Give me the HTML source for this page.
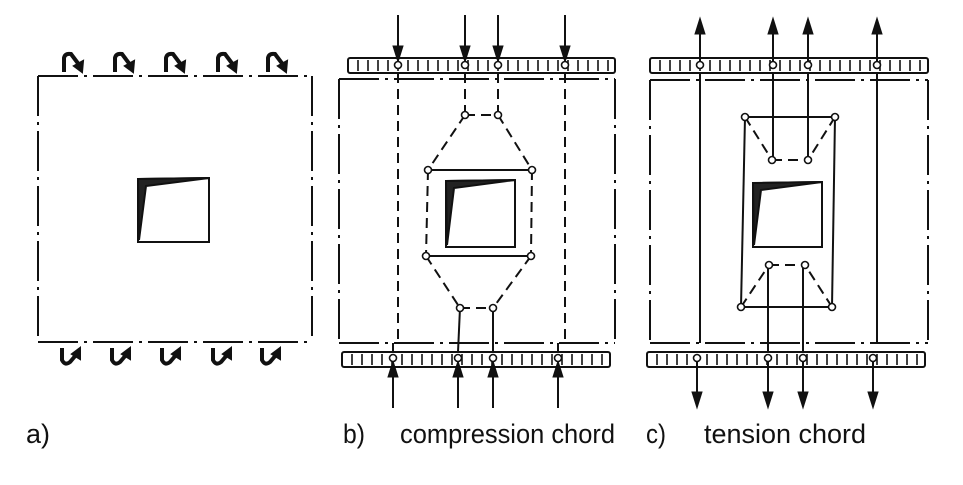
<!DOCTYPE html>
<html><head><meta charset="utf-8"><style>
html,body{margin:0;padding:0;background:#fff;width:963px;height:485px;overflow:hidden}
svg{display:block}
text{font-family:"Liberation Sans",sans-serif;font-size:27px;fill:#111}
</style></head><body>
<svg id="fig" width="963" height="485" viewBox="0 0 963 485" xmlns="http://www.w3.org/2000/svg">
<g id="pa" stroke="#111" fill="none" stroke-width="2"></g>
<g id="pb" stroke="#111" fill="none" stroke-width="2"></g>
<g id="pc" stroke="#111" fill="none" stroke-width="2"></g>
<text x="26" y="443" textLength="24" lengthAdjust="spacingAndGlyphs">a)</text>
<text x="343" y="443" textLength="22" lengthAdjust="spacingAndGlyphs">b)</text>
<text x="400" y="443" textLength="215" lengthAdjust="spacingAndGlyphs">compression chord</text>
<text x="646" y="443" textLength="20" lengthAdjust="spacingAndGlyphs">c)</text>
<text x="704" y="443" textLength="162" lengthAdjust="spacingAndGlyphs">tension chord</text>
</svg>
<script>
const NS="http://www.w3.org/2000/svg";
function mk(g,tag,attrs){const e=document.createElementNS(NS,tag);for(const k in attrs)e.setAttribute(k,attrs[k]);g.appendChild(e);return e;}
const DD="40 6 3 6";
function line(g,x1,y1,x2,y2,dash,name){const e=mk(g,'line',{x1,y1,x2,y2});if(dash)e.setAttribute('stroke-dasharray',dash);


return e;}
function hole(g,x1,y1,x2,y2){
const r=mk(g,'polygon',{points:`${x1},${y1} ${x2},${y1-1} ${x2},${y2} ${x1},${y2}`});


const s=mk(g,'polygon',{points:`${x1},${y1} ${x2},${y1-1} ${x1+8},${y1+7} ${x1+1},${y2-2}`,fill:'#222'});


}
function beam(g,x1,x2,y){
const r=mk(g,'rect',{x:x1,y:y,width:x2-x1,height:15,rx:2});


for(let x=x1+10;x<x2-3;x+=10){const t=mk(g,'line',{x1:x,y1:y+2,x2:x,y2:y+13,'stroke-width':1.6});

}
}
function node(g,x,y){const c=mk(g,'circle',{cx:x,cy:y,r:3.5,fill:'#fff','stroke-width':1.6});

}
function arrow(g,x,y1,y2){
const d=y2>y1?1:-1;
const l=mk(g,'line',{x1:x,y1:y1,x2:x,y2:y2-d*12});


const h=mk(g,'polygon',{points:`${x-5},${y2-d*16} ${x+5},${y2-d*16} ${x},${y2}`,fill:'#111','stroke-width':1});

}
function dframe(g,x1,y1,x2,y2){
line(g,x1,y1,x2,y1,DD,'frame-top');line(g,x1,y2,x2,y2,DD,'frame-bottom');
line(g,x1,y1,x1,y2,DD,'frame-left');line(g,x2,y1,x2,y2,DD,'frame-right');}

// panel a
const A=document.getElementById('pa');
dframe(A,38,76,312,342);
hole(A,138,179,209,242);
[70,121,172,224,274].forEach(x=>{
const p=mk(A,'path',{d:`M${x-6},72 L${x-6},58 Q${x-5},53 ${x+1},54 L${x+4},58 L${x+10},66`,'stroke-width':4});


const h=mk(A,'polygon',{points:`${x+12},72 ${x+4},66 ${x+13},61`,fill:'#111'});


});
[68,118,168,219,268].forEach(x=>{
const p=mk(A,'path',{d:`M${x-6},348 L${x-6},360 Q${x-3},366 ${x+2},362 L${x+8},355`,'stroke-width':4});


const h=mk(A,'polygon',{points:`${x+12},348 ${x+4},354 ${x+12},359`,fill:'#111'});


});

// panel b
const B=document.getElementById('pb');
beam(B,348,615,58);beam(B,342,610,352);
dframe(B,339,79,615,343);
const DS="10 6";
line(B,398,73,398,343,DS,'strut-left');line(B,565,73,565,343,DS,'strut-right');
line(B,465,73,465,115,DS,'strut');line(B,498,73,498,115,DS,'strut');
line(B,393,343,393,352,null,'strut');line(B,558,343,558,352,null,'strut');
line(B,465,115,498,115,DS,'tie');line(B,465,115,428,170,DS,'strut-diag');line(B,498,115,532,170,DS,'strut-diag');
line(B,428,170,532,170,null,'tie');line(B,428,170,426,256,DS,'strut');line(B,532,170,531,256,DS,'strut');
line(B,426,256,531,256,null,'tie');line(B,426,256,460,308,DS,'strut-diag');line(B,531,256,493,308,DS,'strut-diag');
line(B,460,308,493,308,DS,'tie');line(B,460,308,458,352,null,'strut');line(B,493,308,493,352,null,'strut');
hole(B,446,181,515,247);
[[465,115],[498,115],[428,170],[532,170],[426,256],[531,256],[460,308],[493,308]].forEach(p=>node(B,p[0],p[1]));
[398,465,498,565].forEach(x=>{arrow(B,x,15,62);node(B,x,65);});
[393,458,493,558].forEach(x=>{arrow(B,x,408,361);node(B,x,358);});

// panel c
const C=document.getElementById('pc');
beam(C,650,928,58);beam(C,647,925,352);
dframe(C,650,80,928,343);
line(C,700,73,700,343,null,'tie-left');line(C,877,73,877,343,null,'tie-right');
line(C,773,73,773,160,null,'tie');line(C,808,73,808,160,null,'tie');
line(C,768,265,768,352,null,'tie');line(C,803,265,803,352,null,'tie');
line(C,745,117,835,117,null,'frame-tie');line(C,745,117,741,307,null,'frame-tie');line(C,835,117,832,307,null,'frame-tie');line(C,741,307,832,307,null,'frame-tie');
line(C,745,117,772,160,DS,'strut-diag');line(C,835,117,808,160,DS,'strut-diag');line(C,772,160,808,160,DS,'strut');
line(C,741,307,769,265,DS,'strut-diag');line(C,832,307,805,265,DS,'strut-diag');line(C,769,265,805,265,DS,'strut');
hole(C,753,183,822,247);
[[745,117],[835,117],[772,160],[808,160],[769,265],[805,265],[741,307],[832,307]].forEach(p=>node(C,p[0],p[1]));
[700,773,808,877].forEach(x=>{arrow(C,x,62,18);node(C,x,65);});
[697,768,803,873].forEach(x=>{arrow(C,x,362,408);node(C,x,358);});
</script>
</body></html>
